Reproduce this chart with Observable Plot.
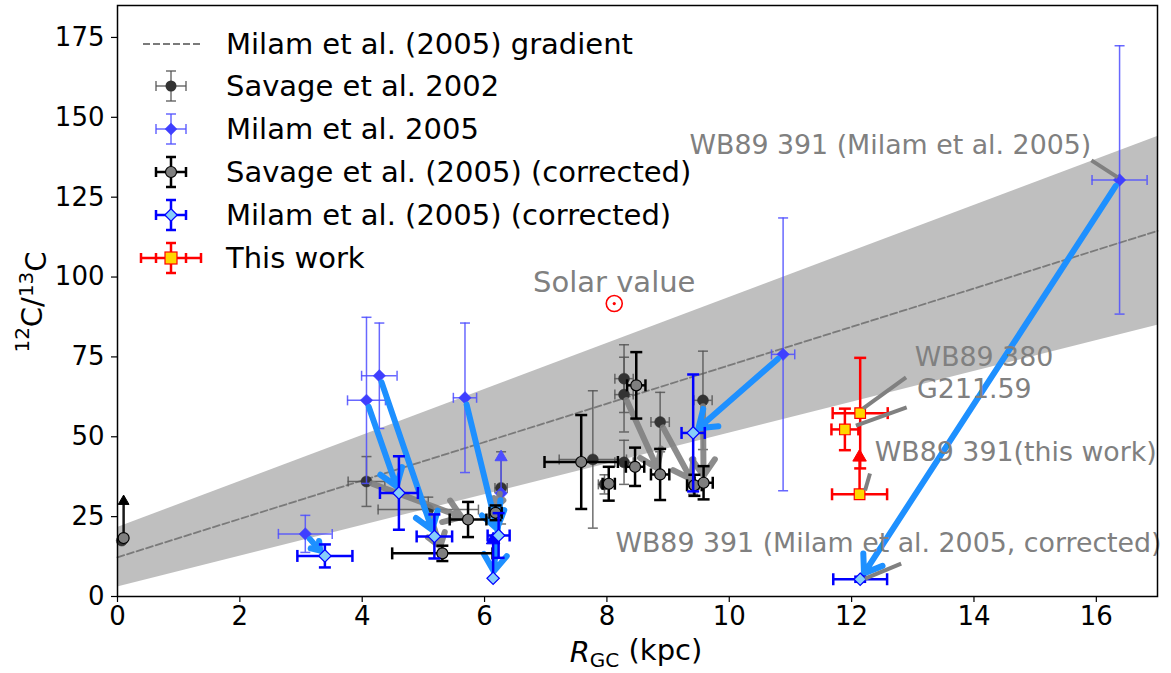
<!DOCTYPE html>
<html><head><meta charset="utf-8">
<script src="https://cdn.jsdelivr.net/npm/d3@7"></script>
<script src="https://cdn.jsdelivr.net/npm/@observablehq/plot@0.6"></script>
<style>body{margin:0;background:#fff;} #chart{width:1171px;height:673px;}</style>
</head><body><div id="chart"></div>
<script>
// ---------------- DATA ----------------
// Milam et al. (2005) gradient band and line (values read at R = 0 and R = 17)
const bandR = [0, 17];
const bandUpper = [21.6, 144.0];
const bandLower = [2.95, 84.9];
const gradientLine = [12.28, 114.45];

// Savage et al. 2002
const sav02R   = [0.07, 4.07, 5.08, 6.27, 7.77, 7.96, 8.28, 8.28, 8.28, 8.87, 9.41, 9.57];
const sav02Val = [17.5, 36.0, 27.2, 34.0, 42.9, 35.1, 68.2, 63.2, 42.0, 54.6, 35.0, 61.4];
const sav02ER  = [0, 0.30, 0.82, 0.10, 0.55, 0.10, 0.15, 0.15, 0.15, 0.15, 0.10, 0.15];
const sav02EV  = [0, 7.8, 3.9, 11.3, 21.5, 3.0, 10.6, 11.7, 6.9, 9.3, 3.0, 15.4];

// Milam et al. 2005
const mil05R   = [3.07, 4.07, 4.28, 5.68, 10.88, 16.38];
const mil05Val = [19.6, 61.4, 69.1, 62.2, 75.8, 130.4];
const mil05ER  = [0.44, 0.31, 0.29, 0.19, 0.19, 0.45];
const mil05EV  = [5.8, 26.0, 16.5, 23.4, 42.7, 42.0];
// Milam et al. 2005 lower limits
const mil05LimR = [6.27];
const mil05LimVal = [32.3];
const mil05LimTop = [43.6];

// Savage et al. (2005) (corrected)
const sav05R   = [5.73, 5.31, 6.18, 7.58, 8.03, 8.48, 8.87, 8.46, 9.43, 9.58];
const sav05Val = [24.1, 13.5, 26.2, 42.1, 35.3, 66.1, 38.2, 40.6, 34.8, 35.6];
const sav05ER  = [0.30, 0.82, 0.10, 0.60, 0.10, 0.15, 0.15, 0.15, 0.12, 0.15];
const sav05EV  = [5.5, 2.4, 2.3, 14.7, 5.3, 10.4, 8.0, 6.0, 3.3, 5.2];
const sav05LimR = [0.10];
const sav05LimVal = [18.3];
const sav05LimTop = [29.8];

// Milam et al. (2005) (corrected)
const mil05cR   = [3.39, 4.60, 5.18, 6.23, 9.41, 12.14];
const mil05cVal = [12.7, 32.4, 18.8, 19.1, 51.2, 5.4];
const mil05cER  = [0.45, 0.31, 0.29, 0.18, 0.19, 0.44];
const mil05cEV  = [3.6, 11.5, 6.9, 7.0, 18.3, 0.8];
const mil05cLimR = [6.14];
const mil05cLimVal = [5.7];
const mil05cLimTop = [17.7];

// This work
const thisR   = [12.14, 11.89];
const thisVal = [57.4, 52.3];
const thisER  = [0.45, 0.22];
const thisEV  = [17.3, 6.5];
const thisLimR = [12.13];
const thisLimVal = [32.0];
const thisLimTop = [43.6];
const thisLimER = [0.45];

// Correction arrows (from -> to)
const blueFromR = [3.07, 4.07, 4.28, 5.68, 6.27, 10.88, 16.38];
const blueFromV = [19.6, 61.4, 69.1, 62.2, 32.3, 75.8, 130.4];
const blueToR   = [3.39, 4.60, 5.18, 6.23, 6.14, 9.41, 12.14];
const blueToV   = [12.7, 32.4, 18.8, 19.1, 5.7, 51.2, 5.4];
const grayFromR = [4.07, 5.08, 6.27, 8.28, 8.87, 9.57];
const grayFromV = [36.0, 27.2, 34.0, 63.2, 54.6, 61.4];
const grayToR   = [5.73, 5.31, 6.18, 8.87, 9.43, 9.58];
const grayToV   = [24.1, 13.5, 26.2, 38.2, 34.8, 35.6];

// Solar value
const solarR = [8.12];
const solarVal = [91.7];

// Annotations (left-aligned labels)
const annText = ["WB89 391 (Milam et al. 2005)", "WB89 380", "G211.59", "WB89 391(this work)", "WB89 391 (Milam et al. 2005, corrected)"];
const annR    = [9.35, 13.03, 13.07, 12.38, 8.14];
const annV    = [141.2, 74.8, 64.8, 45.1, 16.6];
const solarLabel = ["Solar value"];
const solarLabelR = [8.12];
const solarLabelV = [98.3];
const leaderR1 = [15.92, 12.89, 12.90, 12.30, 12.81];
const leaderV1 = [136.5, 68.6, 59.2, 38.5, 10.3];
const leaderR2 = [16.35, 12.19, 12.07, 12.22, 12.22];
const leaderV2 = [131.2, 58.9, 53.5, 33.2, 5.6];

// Ticks
const xTicks = [0, 2, 4, 6, 8, 10, 12, 14, 16];
const yTicks = [0, 25, 50, 75, 100, 125, 150, 175];

const legendLabels = ["Milam et al. (2005) gradient", "Savage et al. 2002", "Milam et al. 2005",
  "Savage et al. (2005) (corrected)", "Milam et al. (2005) (corrected)", "This work"];

// ---------------- BUILD ----------------
const FS = 29;     // legend / solar label / axis title font size
const AFS = 26.8;  // object annotation font size
const TFS = 26;    // tick label font size
const rows = (R, V, ER, EV) => R.map((r, i) => ({r, v: V[i], er: ER ? ER[i] : 0, ev: EV ? EV[i] : 0}));
const sav02 = rows(sav02R, sav02Val, sav02ER, sav02EV);
const mil05 = rows(mil05R, mil05Val, mil05ER, mil05EV);
const sav05 = rows(sav05R, sav05Val, sav05ER, sav05EV);
const mil05c = rows(mil05cR, mil05cVal, mil05cER, mil05cEV);
const thisW = rows(thisR, thisVal, thisER, thisEV);
const lims = (R, V, T, ER) => R.map((r, i) => ({r, v: V[i], top: T[i], er: ER ? ER[i] : 0}));
const mil05Lim = lims(mil05LimR, mil05LimVal, mil05LimTop);
const sav05Lim = lims(sav05LimR, sav05LimVal, sav05LimTop);
const mil05cLim = lims(mil05cLimR, mil05cLimVal, mil05cLimTop);
const thisLim = lims(thisLimR, thisLimVal, thisLimTop, thisLimER);

const band = bandR.map((r, i) => ({r, lo: bandLower[i], hi: bandUpper[i], mid: gradientLine[i]}));
const pairs = (fr, fv, tr, tv) => fr.map((r, i) => ({x1: r, y1: fv[i], x2: tr[i], y2: tv[i]}));
const blueArrows = pairs(blueFromR, blueFromV, blueToR, blueToV);
const grayArrows = pairs(grayFromR, grayFromV, grayToR, grayToV);
const ann = annText.map((t, i) => ({t, r: annR[i], v: annV[i]}));
const solarAnn = solarLabel.map((t, i) => ({t, r: solarLabelR[i], v: solarLabelV[i]}));
const solar = solarR.map((r, i) => ({r, v: solarVal[i]}));
const leaders = leaderR1.map((r, i) => ({x1: r, y1: leaderV1[i], x2: leaderR2[i], y2: leaderV2[i]}));

const hcap = {draw(ctx, size) { const r = Math.sqrt(size / Math.PI); ctx.moveTo(-r, 0); ctx.lineTo(r, 0); }};
const vcap = {draw(ctx, size) { const r = Math.sqrt(size / Math.PI); ctx.moveTo(0, -r); ctx.lineTo(0, r); }};

function errorbars(data, color, w, op, cap) {
  const yb = data.filter(d => d.ev > 0), xb = data.filter(d => d.er > 0);
  const s = {stroke: color, strokeWidth: w, strokeOpacity: op};
  return [
    Plot.ruleX(yb, {x: "r", y1: d => d.v - d.ev, y2: d => d.v + d.ev, ...s}),
    Plot.ruleY(xb, {y: "v", x1: d => d.r - d.er, x2: d => d.r + d.er, ...s}),
    Plot.dot(yb, {x: "r", y: d => d.v - d.ev, symbol: hcap, r: cap, fill: "none", ...s}),
    Plot.dot(yb, {x: "r", y: d => d.v + d.ev, symbol: hcap, r: cap, fill: "none", ...s}),
    Plot.dot(xb, {x: d => d.r - d.er, y: "v", symbol: vcap, r: cap, fill: "none", ...s}),
    Plot.dot(xb, {x: d => d.r + d.er, y: "v", symbol: vcap, r: cap, fill: "none", ...s})
  ];
}
function limits(data, color, w, op, headR, headFill) {
  const xb = data.filter(d => d.er > 0);
  return [
    Plot.ruleX(data, {x: "r", y1: "v", y2: "top", stroke: color, strokeWidth: w, strokeOpacity: op}),
    Plot.ruleY(xb, {y: "v", x1: d => d.r - d.er, x2: d => d.r + d.er, stroke: color, strokeWidth: w}),
    Plot.dot(xb, {x: d => d.r - d.er, y: "v", symbol: vcap, r: 6, fill: "none", stroke: color, strokeWidth: w}),
    Plot.dot(xb, {x: d => d.r + d.er, y: "v", symbol: vcap, r: 6, fill: "none", stroke: color, strokeWidth: w}),
    Plot.dot(data, {x: "r", y: "top", symbol: "triangle", r: headR, fill: headFill, stroke: headFill, strokeWidth: 1})
  ];
}

const chart = Plot.plot({
  width: 1171, height: 673,
  marginLeft: 117, marginRight: 14, marginTop: 5, marginBottom: 77,
  style: {fontFamily: "'DejaVu Sans', sans-serif", fontSize: TFS + "px", background: "white", color: "black"},
  x: {domain: [0, 17], label: null},
  y: {domain: [0, 185], label: null},
  marks: [
    Plot.areaY(band, {x: "r", y1: "lo", y2: "hi", fill: "#bfbfbf"}),
    Plot.line(band, {x: "r", y: "mid", stroke: "#7a7a7a", strokeWidth: 1.8, strokeDasharray: "7,3"}),
    // Savage 2002
    ...errorbars(sav02, "#555555", 1.5, 0.85, 5),
    Plot.dot(sav02, {x: "r", y: "v", r: 5.5, fill: "#333333", stroke: "#333333", strokeWidth: 0.5}),
    // Milam 2005
    ...errorbars(mil05, "#4d4dff", 1.5, 0.85, 5),
    ...limits(mil05Lim, "#4d4dff", 1.5, 0.85, 4.5, "#4d4dff"),
    Plot.dot(mil05, {x: "r", y: "v", symbol: "diamond2", r: 5.6, fill: "#3f3fff", stroke: "#3f3fff", strokeWidth: 0.5}),
    Plot.dot(mil05Lim, {x: "r", y: "v", symbol: "diamond2", r: 5.6, fill: "#3f3fff", stroke: "#3f3fff", strokeWidth: 0.5}),
    // correction arrows
    Plot.arrow(grayArrows, {x1: "x1", y1: "y1", x2: "x2", y2: "y2", stroke: "#7f7f7f", strokeOpacity: 0.9, strokeWidth: 6, headLength: 5, headAngle: 70, insetStart: 6, insetEnd: 7}),
    Plot.arrow(blueArrows, {x1: "x1", y1: "y1", x2: "x2", y2: "y2", stroke: "#1e90ff", strokeWidth: 6, headLength: 5, headAngle: 70, insetStart: 7, insetEnd: 7}),
    // Savage 2005 corrected
    ...errorbars(sav05, "#000000", 2.5, 1, 6),
    ...limits(sav05Lim, "#000000", 2.5, 0.9, 4, "#000000"),
    Plot.dot(sav05, {x: "r", y: "v", r: 5.5, fill: "#7f7f7f", stroke: "#000000", strokeWidth: 1.2}),
    Plot.dot(sav05Lim, {x: "r", y: "v", r: 5.5, fill: "#7f7f7f", stroke: "#000000", strokeWidth: 1.2}),
    // Milam 2005 corrected
    ...errorbars(mil05c, "#0000ff", 2.5, 1, 6),
    ...limits(mil05cLim, "#0000ff", 2.5, 1, 5, "#0000ff"),
    Plot.dot(mil05c, {x: "r", y: "v", symbol: "diamond2", r: 5.6, fill: "#87cefa", stroke: "#0000ff", strokeWidth: 1.2}),
    Plot.dot(mil05cLim, {x: "r", y: "v", symbol: "diamond2", r: 5.6, fill: "#87cefa", stroke: "#0000ff", strokeWidth: 1.2}),
    // This work
    ...errorbars(thisW, "#ff0000", 2.5, 1, 6),
    ...limits(thisLim, "#ff0000", 2.5, 1, 5, "#ff0000"),
    Plot.dot(thisW, {x: "r", y: "v", symbol: "square", r: 6, fill: "#ffd700", stroke: "#ff0000", strokeWidth: 1.2}),
    Plot.dot(thisLim, {x: "r", y: "v", symbol: "square", r: 6, fill: "#ffd700", stroke: "#ff0000", strokeWidth: 1.2}),
    // Solar value
    Plot.dot(solar, {x: "r", y: "v", r: 8, fill: "white", stroke: "#ff0000", strokeWidth: 1.6}),
    Plot.dot(solar, {x: "r", y: "v", r: 1.6, fill: "#ff0000"}),
    // Annotations
    Plot.link(leaders, {x1: "x1", y1: "y1", x2: "x2", y2: "y2", stroke: "#808080", strokeWidth: 4}),
    Plot.text(ann, {x: "r", y: "v", text: "t", textAnchor: "start", fill: "#808080", fontSize: AFS}),
    Plot.text(solarAnn, {x: "r", y: "v", text: "t", textAnchor: "middle", fill: "#808080", fontSize: FS}),
    // Axes and frame
    Plot.axisX({ticks: xTicks, tickSize: 6, tickPadding: 4, tickFormat: d => String(d), fontSize: TFS, stroke: "black", strokeWidth: 1.2}),
    Plot.axisY({ticks: yTicks, tickSize: 6, tickPadding: 7, tickFormat: d => String(d), fontSize: TFS, stroke: "black", strokeWidth: 1.2}),
    Plot.frame({stroke: "black", strokeWidth: 1.5})
  ]
});

// Axis titles and legend
const svg = d3.select(chart);
const ylab = svg.append("text")
  .attr("transform", "translate(38,302) rotate(-90)")
  .attr("text-anchor", "middle")
  .attr("font-size", FS).attr("fill", "black");
ylab.append("tspan").attr("font-size", 20).attr("dy", "-0.45em").text("12");
ylab.append("tspan").attr("dy", "0.45em").text("C/");
ylab.append("tspan").attr("font-size", 20).attr("dy", "-0.45em").text("13");
ylab.append("tspan").attr("dy", "0.45em").text("C");

const xlab = svg.append("text")
  .attr("x", 636).attr("y", 662)
  .attr("text-anchor", "middle")
  .attr("font-size", FS).attr("fill", "black");
xlab.append("tspan").attr("font-style", "italic").text("R");
xlab.append("tspan").attr("font-size", 20).attr("dy", "0.25em").text("GC");
xlab.append("tspan").attr("dy", "-0.25em").text(" (kpc)");

const lg = svg.append("g");
const rowsY = [44, 86, 129, 172, 215, 258];
const mx = 171;
// gradient line
lg.append("line").attr("x1", 143).attr("x2", 200).attr("y1", rowsY[0]).attr("y2", rowsY[0])
  .attr("stroke", "#7a7a7a").attr("stroke-width", 1.8).attr("stroke-dasharray", "7,3");
function legErr(y, color, w, op, hw) {
  const g = lg.append("g").attr("stroke", color).attr("stroke-width", w).attr("stroke-opacity", op);
  g.append("line").attr("x1", mx - hw).attr("x2", mx + hw).attr("y1", y).attr("y2", y);
  g.append("line").attr("x1", mx).attr("x2", mx).attr("y1", y - 15).attr("y2", y + 15);
  g.append("line").attr("x1", mx - 5).attr("x2", mx + 5).attr("y1", y - 15).attr("y2", y - 15);
  g.append("line").attr("x1", mx - 5).attr("x2", mx + 5).attr("y1", y + 15).attr("y2", y + 15);
  g.append("line").attr("x1", mx - hw).attr("x2", mx - hw).attr("y1", y - 5).attr("y2", y + 5);
  g.append("line").attr("x1", mx + hw).attr("x2", mx + hw).attr("y1", y - 5).attr("y2", y + 5);
}
legErr(rowsY[1], "#555555", 1.5, 0.85, 15);
lg.append("circle").attr("cx", mx).attr("cy", rowsY[1]).attr("r", 5.5).attr("fill", "#333333");
legErr(rowsY[2], "#4d4dff", 1.5, 0.85, 15);
lg.append("path").attr("d", d3.symbol(d3.symbolDiamond2, Math.PI * 5.6 * 5.6)()).attr("transform", `translate(${mx},${rowsY[2]})`).attr("fill", "#3f3fff");
legErr(rowsY[3], "#000000", 2.5, 1, 15);
lg.append("circle").attr("cx", mx).attr("cy", rowsY[3]).attr("r", 5.5).attr("fill", "#7f7f7f").attr("stroke", "black").attr("stroke-width", 1.2);
legErr(rowsY[4], "#0000ff", 2.5, 1, 15);
lg.append("path").attr("d", d3.symbol(d3.symbolDiamond2, Math.PI * 5.6 * 5.6)()).attr("transform", `translate(${mx},${rowsY[4]})`).attr("fill", "#87cefa").attr("stroke", "#0000ff").attr("stroke-width", 1.2);
legErr(rowsY[5], "#ff0000", 2.5, 1, 30);
lg.append("line").attr("x1", mx - 15).attr("x2", mx - 15).attr("y1", rowsY[5] - 5).attr("y2", rowsY[5] + 5).attr("stroke", "#ff0000").attr("stroke-width", 2.5);
lg.append("line").attr("x1", mx + 15).attr("x2", mx + 15).attr("y1", rowsY[5] - 5).attr("y2", rowsY[5] + 5).attr("stroke", "#ff0000").attr("stroke-width", 2.5);
lg.append("rect").attr("x", mx - 6).attr("y", rowsY[5] - 6).attr("width", 12).attr("height", 12).attr("fill", "#ffd700").attr("stroke", "#ff0000").attr("stroke-width", 1.2);
legendLabels.forEach((t, i) => {
  lg.append("text").attr("x", 226).attr("y", rowsY[i]).attr("dy", "0.36em")
    .attr("text-anchor", "start")
    .attr("font-size", FS).attr("fill", "black").text(t);
});

document.getElementById("chart").appendChild(chart);
</script>
</body></html>
